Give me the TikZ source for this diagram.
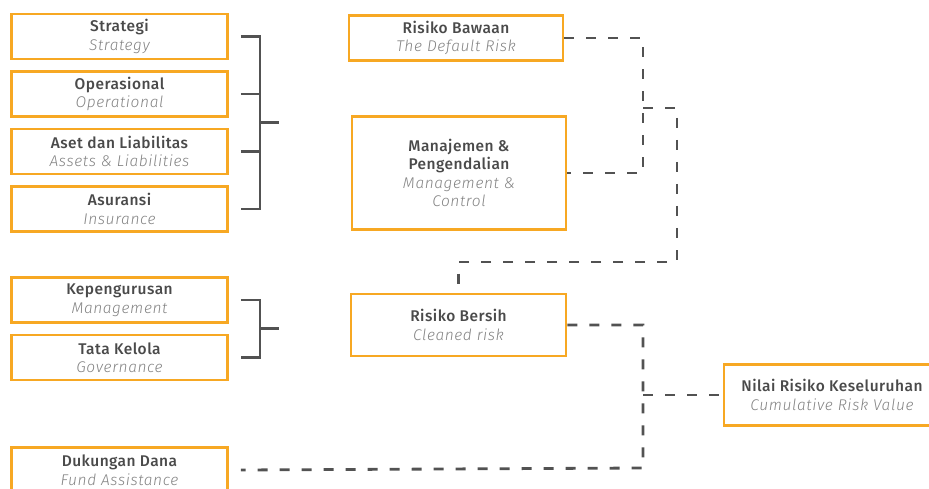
\documentclass[tikz,border=0pt]{standalone}
\usepackage{fontspec}
\setmainfont{Fira Sans}[BoldFont={Fira Sans Medium}, ItalicFont={Fira Sans Light Italic}]
\usetikzlibrary{calc}
\definecolor{boxorange}{HTML}{F7A823}
\definecolor{titlegray}{HTML}{4A4A4A}
\definecolor{subgray}{HTML}{838383}
\definecolor{linegray}{HTML}{525252}
\newcommand{\boxtitle}[1]{{\bfseries\addfontfeature{LetterSpace=3}\color{titlegray}#1}}
\newcommand{\boxsub}[1]{{\itshape\addfontfeature{LetterSpace=4}\color{subgray}#1}}
\tikzset{
  box/.style={draw=boxorange, line width=2.6pt, fill=white, align=center,
    inner sep=0pt, minimum width=216pt, minimum height=45pt,
    font=\fontsize{15.5}{18.5}\selectfont},
  bracketline/.style={draw=linegray, line width=2.6pt},
  dashline/.style={draw=linegray, line width=2.8pt, dash pattern=on 10pt off 12pt},
}
\begin{document}
\begin{tikzpicture}[x=1pt,y=-1pt]
\useasboundingbox (0,0) rectangle (929,489);
% left column
\node[box] (strat) at (119.5,36.5) {\boxtitle{Strategi}\\\boxsub{Strategy}};
\node[box] (oper) at (119.5,94) {\boxtitle{Operasional}\\\boxsub{Operational}};
\node[box] (aset) at (119.5,151.5) {\boxtitle{Aset dan Liabilitas}\\\boxsub{Assets \& Liabilities}};
\node[box] (asur) at (119.5,209) {\boxtitle{Asuransi}\\\boxsub{Insurance}};
\node[box] (kep) at (119.5,300) {\boxtitle{Kepengurusan}\\\boxsub{Management}};
\node[box] (tata) at (119.5,357.5) {\boxtitle{Tata Kelola}\\\boxsub{Governance}};
\node[box] (dukung) at (119.5,470) {\boxtitle{Dukungan Dana}\\\boxsub{Fund Assistance}};
% middle column
\node[box, minimum width=214pt] (bawaan) at (456,38) {\boxtitle{Risiko Bawaan}\\\boxsub{The Default Risk}};
\node[box, minimum width=214pt, minimum height=113pt] (mgmt) at (459,173) {\boxtitle{Manajemen \&}\\\boxtitle{Pengendalian}\\\boxsub{Management \&}\\\boxsub{Control}};
\node[box, minimum width=215pt, minimum height=62pt] (bersih) at (458.5,325) {\boxtitle{Risiko Bersih}\\\boxsub{Cleaned risk}};
% right
\node[box, minimum height=61pt] (nilai) at (832,395) {\boxtitle{Nilai Risiko Keseluruhan}\\\boxsub{Cumulative Risk Value}};
% brackets
\draw[bracketline] ($(strat.east)+(12,0)$) -- ++(19,0) |- ($(asur.east)+(12,0)$);
\draw[bracketline] ($(oper.east)+(12,0)$) -- ++(19,0);
\draw[bracketline] ($(aset.east)+(12,0)$) -- ++(19,0);
\coordinate (brA) at ($(strat.east)!0.5!(asur.east)+(31,0)$);
\draw[bracketline] (brA) -- ++(19,0);
\draw[bracketline] ($(kep.east)+(12,0)$) -- ++(19,0) |- ($(tata.east)+(12,0)$);
\coordinate (brB) at ($(kep.east)!0.5!(tata.east)+(31,0)$);
\draw[bracketline] (brB) -- ++(19,0);
% dashed connectors
\coordinate (j1) at (643,173);
\coordinate (j2) at (643,108);
\coordinate (j3) at (677,262);
\coordinate (j4) at (643,468);
\coordinate (j5) at (643,395);
\draw[dashline] (bawaan.east) -| (j1) -- (mgmt.east);
\draw[dashline] (j2) -| (j3) -| (bersih.north);
\draw[dashline] (bersih.east) -| (j4) -- ($(dukung.east)+(12,0)$);
\draw[dashline] (j5) -- (nilai.west);
\end{tikzpicture}
\end{document}
